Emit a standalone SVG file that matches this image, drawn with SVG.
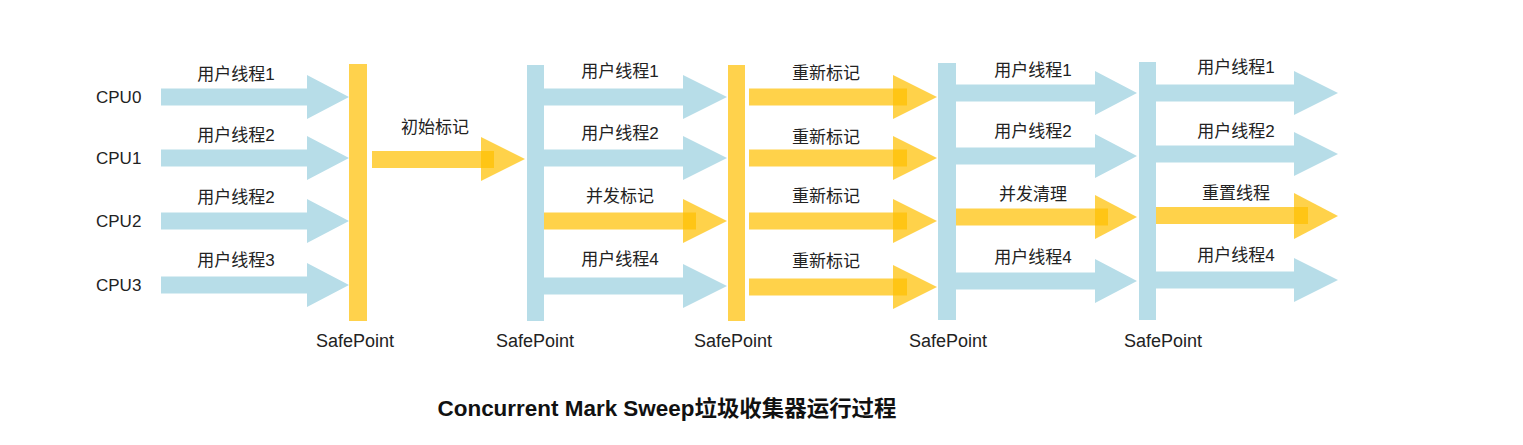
<svg xmlns="http://www.w3.org/2000/svg" width="1523" height="445" viewBox="0 0 1523 445">
<style>
.b{fill:#B7DDE8}
.y{fill:#FFC000;fill-opacity:.71}
.yb{fill:#FFD24C}
.t{font-family:"Liberation Sans","Noto Sans CJK SC",sans-serif;font-size:17px;fill:#222;text-anchor:middle}
.c{font-family:"Liberation Sans","Noto Sans CJK SC",sans-serif;font-size:17px;fill:#222}
.s{font-family:"Liberation Sans","Noto Sans CJK SC",sans-serif;font-size:18px;fill:#222;text-anchor:middle}
.h{font-family:"Liberation Sans","Noto Sans CJK SC",sans-serif;font-size:22px;font-weight:bold;fill:#111;text-anchor:middle}
</style>
<rect width="1523" height="445" fill="#fff"/>
<g id="cpus">
<g id="cpu0"><text class="c" x="96" y="103">CPU0</text></g>
<g id="cpu1"><text class="c" x="96" y="164">CPU1</text></g>
<g id="cpu2"><text class="c" x="96" y="227">CPU2</text></g>
<g id="cpu3"><text class="c" x="96" y="291">CPU3</text></g>
</g>
<g id="safepoint1"><rect class="yb" x="349" y="64" width="18" height="257"/><text class="s" x="355" y="347">SafePoint</text></g>
<g id="safepoint2"><rect class="b" x="527" y="65" width="17" height="256"/><text class="s" x="535" y="347">SafePoint</text></g>
<g id="safepoint3"><rect class="yb" x="728" y="65" width="17" height="256"/><text class="s" x="733" y="347">SafePoint</text></g>
<g id="safepoint4"><rect class="b" x="938" y="63" width="18" height="257"/><text class="s" x="948" y="347">SafePoint</text></g>
<g id="safepoint5"><rect class="b" x="1139" y="62" width="17" height="258"/><text class="s" x="1163" y="347">SafePoint</text></g>
<g id="connectors">
<!-- column 1 -->
<polygon class="b" points="161,88.5 307,88.5 307,75 349,97 307,119 307,105.5 161,105.5"/>
<polygon class="b" points="161,149.5 307,149.5 307,136 349,158 307,180 307,166.5 161,166.5"/>
<polygon class="b" points="161,212.5 307,212.5 307,199 349,221 307,243 307,229.5 161,229.5"/>
<polygon class="b" points="161,276.5 307,276.5 307,263 349,285 307,307 307,293.5 161,293.5"/>
<text class="t" x="236" y="80">用户线程1</text>
<text class="t" x="236" y="141">用户线程2</text>
<text class="t" x="236" y="203">用户线程2</text>
<text class="t" x="236" y="266">用户线程3</text>
<!-- initial mark -->
<rect class="y" x="372" y="151" width="122" height="17"/>
<polygon class="y" points="481,137 525,159 481,181"/>
<text class="t" x="435" y="133">初始标记</text>
<!-- column 2 -->
<polygon class="b" points="544,88.5 683,88.5 683,75 727,97 683,119 683,105.5 544,105.5"/>
<polygon class="b" points="544,149.5 683,149.5 683,136 727,158 683,180 683,166.5 544,166.5"/>
<rect class="y" x="544" y="212.5" width="152" height="17"/>
<polygon class="y" points="683,199 727,221 683,243"/>
<polygon class="b" points="544,277.5 683,277.5 683,264 727,286 683,308 683,294.5 544,294.5"/>
<text class="t" x="620" y="77">用户线程1</text>
<text class="t" x="620" y="139">用户线程2</text>
<text class="t" x="620" y="202">并发标记</text>
<text class="t" x="620" y="265">用户线程4</text>
<!-- column 3 remark -->
<rect class="y" x="749" y="88.5" width="158" height="17"/>
<polygon class="y" points="893,75 937,97 893,119"/>
<rect class="y" x="749" y="149.5" width="158" height="17"/>
<polygon class="y" points="893,136 937,158 893,180"/>
<rect class="y" x="749" y="212.5" width="158" height="17"/>
<polygon class="y" points="893,199 937,221 893,243"/>
<rect class="y" x="749" y="278.5" width="158" height="17"/>
<polygon class="y" points="893,265 937,287 893,309"/>
<text class="t" x="826" y="79">重新标记</text>
<text class="t" x="826" y="143">重新标记</text>
<text class="t" x="826" y="202">重新标记</text>
<text class="t" x="826" y="267">重新标记</text>
<!-- column 4 -->
<polygon class="b" points="956,84.5 1095,84.5 1095,71 1137,93 1095,115 1095,101.5 956,101.5"/>
<polygon class="b" points="956,147.5 1095,147.5 1095,134 1137,156 1095,178 1095,164.5 956,164.5"/>
<rect class="y" x="956" y="208.5" width="152" height="17"/>
<polygon class="y" points="1095,195 1137,217 1095,239"/>
<polygon class="b" points="956,272.5 1095,272.5 1095,259 1137,281 1095,303 1095,289.5 956,289.5"/>
<text class="t" x="1033" y="76">用户线程1</text>
<text class="t" x="1033" y="137">用户线程2</text>
<text class="t" x="1033" y="200">并发清理</text>
<text class="t" x="1033" y="263">用户线程4</text>
<!-- column 5 -->
<polygon class="b" points="1156,84.5 1294,84.5 1294,71 1338,93 1294,115 1294,101.5 1156,101.5"/>
<polygon class="b" points="1156,145.5 1294,145.5 1294,132 1338,154 1294,176 1294,162.5 1156,162.5"/>
<rect class="y" x="1156" y="207" width="152" height="17"/>
<polygon class="y" points="1294,193 1338,216 1294,239"/>
<polygon class="b" points="1156,271.5 1294,271.5 1294,258 1338,280 1294,302 1294,288.5 1156,288.5"/>
<text class="t" x="1236" y="73">用户线程1</text>
<text class="t" x="1236" y="137">用户线程2</text>
<text class="t" x="1236" y="199">重置线程</text>
<text class="t" x="1236" y="261">用户线程4</text>
</g>
<g id="title"><text class="h" x="667" y="416" textLength="459" lengthAdjust="spacingAndGlyphs">Concurrent Mark Sweep垃圾收集器运行过程</text></g>
</svg>
